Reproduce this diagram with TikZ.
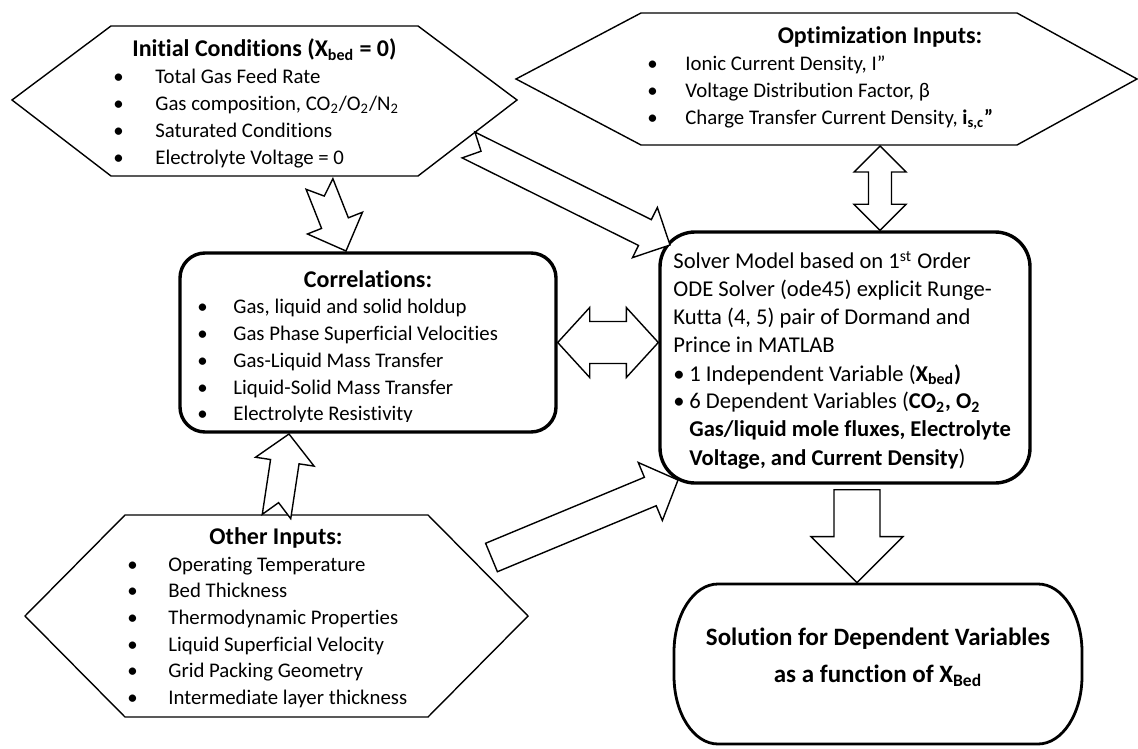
\documentclass[tikz,border=0pt]{standalone}
\usepackage{fontspec}
\setmainfont{Carlito}[Ligatures=NoCommon]
\usetikzlibrary{calc}

\tikzset{
  hexa/.style={draw,line width=0.7pt,line join=miter},
  roundbox/.style={draw,line width=1.7pt},
  fat/.style={draw,line width=0.7pt,fill=white,line join=miter},
  title/.style={font=\bfseries\fontsize{12pt}{14pt}\selectfont,inner sep=0pt,anchor=base},
  items/.style={inner sep=0pt,anchor=base west},
}

% block arrow: tail, tip, half shaft, half head, head length, notch depth
\newcommand{\fatarrow}[6]{%
  \draw[fat] ($(#1)!#3!90:(#2)$) -- ($(#2)!#5!(#1)!#3!90:(#2)$) -- ($(#2)!#5!(#1)!#4!90:(#2)$) -- (#2)
    -- ($(#2)!#5!(#1)!#4!-90:(#2)$) -- ($(#2)!#5!(#1)!#3!-90:(#2)$) -- ($(#1)!#3!-90:(#2)$)
    -- ($(#1)!#6!(#2)$) -- cycle;}
% block arrow with a head at both ends
\newcommand{\dblarrow}[5]{%
  \draw[fat] (#1) -- ($(#1)!#5!(#2)!#4!90:(#2)$) -- ($(#1)!#5!(#2)!#3!90:(#2)$)
    -- ($(#2)!#5!(#1)!#3!90:(#2)$) -- ($(#2)!#5!(#1)!#4!90:(#2)$) -- (#2)
    -- ($(#2)!#5!(#1)!#4!-90:(#2)$) -- ($(#2)!#5!(#1)!#3!-90:(#2)$)
    -- ($(#1)!#5!(#2)!#3!-90:(#2)$) -- ($(#1)!#5!(#2)!#4!-90:(#2)$) -- cycle;}

\begin{document}
\begin{tikzpicture}[x=0.5pt,y=-0.5pt,font=\fontsize{10.4pt}{13.35pt}\selectfont]
  \useasboundingbox (0,0) rectangle (1138,748);

  % initial conditions
  \draw[hexa] (12,100) -- (111,26) -- (418,26) -- (517,100) -- (418,176) -- (111,176) -- cycle;
  \node[title] (initT) at (264.5,57) {Initial Conditions (X\textsubscript{bed} = 0)};
  \node[items] (init) at (113,84) {\begin{tabular}[t]{@{}p{21pt}@{}l@{}}
      \textbullet & Total Gas Feed Rate\\
      \textbullet & Gas composition, CO\textsubscript{2}/O\textsubscript{2}/N\textsubscript{2}\\
      \textbullet & Saturated Conditions\\
      \textbullet & Electrolyte Voltage = 0
    \end{tabular}};

  % optimization inputs
  \draw[hexa] (516,79) -- (641,13) -- (1017,13) -- (1137,79) -- (1017,145) -- (641,145) -- cycle;
  \node[title] (optT) at (880,44) {Optimization Inputs:};
  \node[items] (opt) at (647,71) {\begin{tabular}[t]{@{}p{19pt}@{}l@{}}
      \textbullet & Ionic Current Density, I”\\
      \textbullet & Voltage Distribution Factor, β\\
      \textbullet & Charge Transfer Current Density, \textbf{i\textsubscript{s,c}”}
    \end{tabular}};

  % correlations
  \node[roundbox,rounded corners=12.5pt,minimum width=188pt,minimum height=89.5pt] (corr) at (368,342.5) {};
  \node[title] (corrT) at (368,287) {Correlations:};
  \begin{scope}
    \clip (182,255) rectangle (554,421);
    \node[items] (corrL) at (197,314) {\begin{tabular}[t]{@{}p{18pt}@{}l@{}}
        \textbullet & Gas, liquid and solid holdup\\
        \textbullet & Gas Phase Superficial Velocities\\
        \textbullet & Gas-Liquid Mass Transfer\\
        \textbullet & Liquid-Solid Mass Transfer\\
        \textbullet & Electrolyte Resistivity
      \end{tabular}};
  \end{scope}

  % solver
  \node[roundbox,rounded corners=17.5pt,minimum width=185pt,minimum height=125.5pt] (solver) at (845,357.5) {};
  \node[items,font=\fontsize{11.3pt}{14pt}\selectfont] (solverL) at (673,269) {\begin{tabular}[t]{@{}p{8pt}@{}l@{}}
      \multicolumn{2}{@{}l@{}}{Solver Model based on 1\textsuperscript{st} Order}\\
      \multicolumn{2}{@{}l@{}}{ODE Solver (ode45) explicit Runge-}\\
      \multicolumn{2}{@{}l@{}}{Kutta (4, 5) pair of Dormand and}\\
      \multicolumn{2}{@{}l@{}}{Prince in MATLAB}\\
      \textbullet & 1 Independent Variable (\textbf{X\textsubscript{bed})}\\
      \textbullet & 6 Dependent Variables (\textbf{CO\textsubscript{2}, O\textsubscript{2}}\\
      & \textbf{Gas/liquid mole fluxes, Electrolyte}\\
      & \textbf{Voltage, and Current Density})
    \end{tabular}};

  % solution, with elliptic corners
  \node[minimum width=204pt,minimum height=80pt,outer sep=0pt] (sol) at (878,664) {};
  \draw[roundbox,line width=1.4pt] ([xshift=22pt]sol.north west) -- ([xshift=-22pt]sol.north east)
    arc[start angle=90,end angle=0,x radius=22pt,y radius=34pt] -- ([yshift=34pt]sol.south east)
    arc[start angle=0,end angle=-90,x radius=22pt,y radius=34pt] -- ([xshift=22pt]sol.south west)
    arc[start angle=270,end angle=180,x radius=22pt,y radius=34pt] -- ([yshift=-34pt]sol.north west)
    arc[start angle=180,end angle=90,x radius=22pt,y radius=34pt] -- cycle;
  \node[font=\bfseries\fontsize{12.5pt}{18.5pt}\selectfont,align=center,inner sep=0pt] (solT) at (878,657)
    {Solution for Dependent Variables\\as a function of X\textsubscript{Bed}};

  % other inputs
  \draw[hexa] (25,616) -- (125,515) -- (428,515) -- (528,616) -- (428,717) -- (125,717) -- cycle;
  \node[title] (othT) at (276,544) {Other Inputs:};
  \node[items] (oth) at (127,571) {\begin{tabular}[t]{@{}p{20.5pt}@{}l@{}}
      \textbullet & Operating Temperature\\
      \textbullet & Bed Thickness\\
      \textbullet & Thermodynamic Properties\\
      \textbullet & Liquid Superficial Velocity\\
      \textbullet & Grid Packing Geometry\\
      \textbullet & Intermediate layer thickness
    \end{tabular}};

  % arrow ends
  \coordinate (i2c-a) at (319.5,184);
  \coordinate (i2c-b) at (346,251);
  \coordinate (i2s-a) at (468.5,145);
  \coordinate (i2s-b) at (670,245);
  \coordinate (o2c-a) at (276.5,516.5);
  \coordinate (o2c-b) at (289,434);
  \coordinate (o2s-a) at (491.5,557.5);
  \coordinate (o2s-b) at (678,480);
  \coordinate (opt-s) at (880,146);
  \coordinate (solver-n) at (opt-s |- solver.north);
  \coordinate (solver-w) at (corr.east -| solver.west);
  \coordinate (s2r-a) at ([xshift=6pt,yshift=-2.5pt]solver.south);
  \coordinate (s2r-b) at ([yshift=0.7pt]s2r-a |- sol.north);

  \fatarrow{i2c-a}{i2c-b}{7.2pt}{14.8pt}{15pt}{6.5pt}
  \fatarrow{i2s-a}{i2s-b}{7.2pt}{14pt}{14pt}{7pt}
  \fatarrow{o2c-a}{o2c-b}{7.2pt}{14.8pt}{14pt}{7pt}
  \fatarrow{o2s-a}{o2s-b}{7.7pt}{15.7pt}{15pt}{0pt}
  \fatarrow{s2r-a}{s2r-b}{11.5pt}{23pt}{23pt}{0pt}
  \dblarrow{corr.east}{solver-w}{10.5pt}{17.5pt}{16pt}
  \dblarrow{opt-s}{solver-n}{5.75pt}{13pt}{13pt}
\end{tikzpicture}
\end{document}
